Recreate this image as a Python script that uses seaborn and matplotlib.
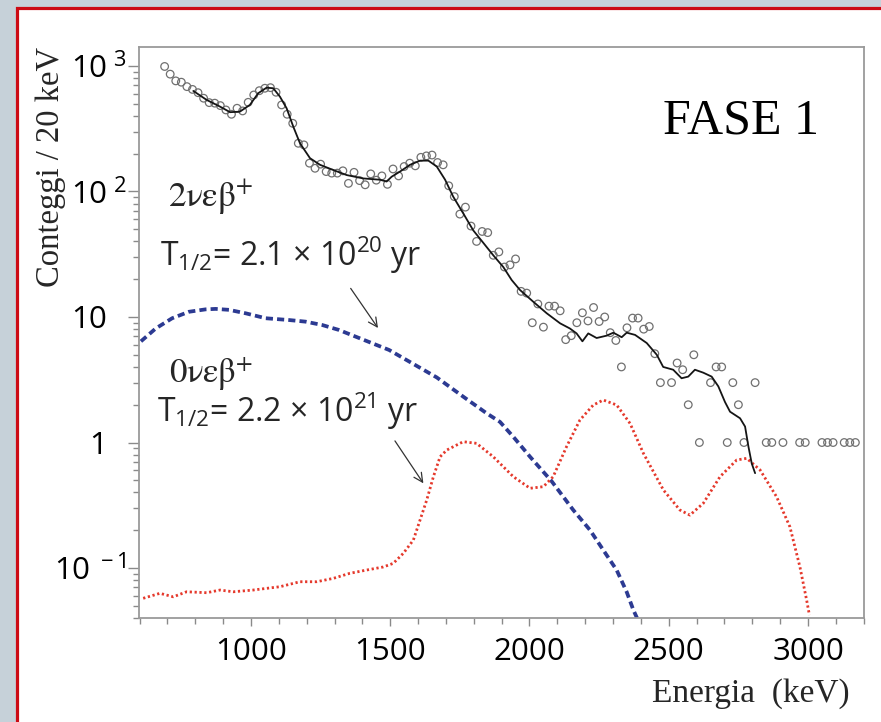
import numpy as np
import pandas as pd
import matplotlib
matplotlib.use("Agg")
import matplotlib.pyplot as plt
import seaborn as sns
from matplotlib.patches import Rectangle
from matplotlib.ticker import LogLocator, NullFormatter, MultipleLocator

# ---------------- data ----------------
energy_pts = [690, 710, 730, 750, 770, 790, 810, 830, 850, 870,
              890, 910, 930, 950, 970, 990, 1010, 1030, 1050, 1070,
              1090, 1110, 1130, 1150, 1170, 1190, 1210, 1230, 1250, 1270,
              1290, 1310, 1330, 1350, 1370, 1390, 1410, 1430, 1450, 1470,
              1490, 1510, 1530, 1550, 1570, 1590, 1610, 1630, 1650, 1670,
              1690, 1710, 1730, 1750, 1770, 1790, 1810, 1830, 1850, 1870,
              1890, 1910, 1930, 1950, 1970, 1990, 2010, 2030, 2050, 2070,
              2090, 2110, 2130, 2150, 2170, 2190, 2210, 2230, 2250, 2270,
              2290, 2310, 2330, 2350, 2370, 2390, 2410, 2430, 2450, 2470,
              2510, 2530, 2550, 2570, 2590, 2610,
              2650, 2670, 2690, 2710, 2730, 2750, 2770, 2810,
              2850, 2870, 2910, 2970, 2990, 3050, 3070, 3090, 3130, 3150, 3170]
counts_pts = [990, 860, 760, 742, 684, 650, 612, 553, 510, 505,
              483, 446, 412, 460, 438, 513, 587, 635, 664, 671,
              617, 489, 412, 349, 242, 235, 168, 153, 165, 144,
              140, 140, 146, 116, 142, 122, 113, 138, 123, 133,
              114, 151, 133, 158, 168, 160, 187, 192, 195, 170,
              163, 111, 91, 66, 75, 53, 40, 48, 47, 31,
              33, 25, 26, 29, 16, 15.5, 9.0, 12.7, 8.3, 12.2,
              12.2, 11.2, 6.6, 7.1, 9.0, 10.8, 9.3, 11.9, 9.2, 10.0,
              7.5, 6.5, 4.0, 8.2, 9.8, 9.8, 8.0, 8.4, 5.1, 3.0,
              3.0, 4.3, 3.8, 2.0, 5.0, 1.0,
              3.0, 4.0, 4.0, 1.0, 3.0, 2.0, 1.0, 3.0,
              1, 1, 1, 1, 1, 1, 1, 1, 1, 1, 1]

fit_energy = [793, 841, 889, 925, 960, 996, 1026, 1056, 1080, 1104,
              1128, 1152, 1176, 1212, 1248, 1296, 1344, 1403, 1463, 1487,
              1505, 1535, 1571, 1607, 1637, 1667, 1697, 1726, 1762, 1798,
              1834, 1870, 1906, 1936, 1966, 2014, 2062, 2110, 2145, 2169,
              2190, 2211, 2241, 2277, 2301, 2331, 2349, 2379, 2421, 2457,
              2480, 2516, 2546, 2570, 2594, 2624, 2654, 2678, 2702, 2720,
              2756, 2774, 2786, 2798, 2810]
fit_counts = [632, 536, 474, 428, 432, 489, 606, 671, 664, 569,
              460, 328, 242, 184, 163, 148, 135, 127, 124, 120,
              131, 144, 163, 176, 176, 158, 124, 91, 67, 49,
              39, 31, 25, 19.7, 16.4, 13.2, 10.7, 8.9, 8.1, 7.4,
              6.4, 7.4, 6.8, 7.1, 7.5, 6.9, 7.5, 7.2, 6.2, 5.0,
              4.0, 3.8, 3.25, 3.35, 3.8, 3.6, 3.35, 2.8, 2.1, 1.76,
              1.56, 1.34, 0.93, 0.68, 0.57]

two_nu_energy = [605, 658, 717, 777, 837, 873, 921, 981, 1053, 1136,
                 1196, 1256, 1316, 1376, 1436, 1496, 1667, 1762, 1846, 1894,
                 1942, 2002, 2080, 2157, 2217, 2265, 2313, 2349, 2373, 2386]
two_nu_counts = [6.4, 8.1, 9.77, 11.0, 11.5, 11.6, 11.4, 10.7, 9.77, 9.46,
                 9.18, 8.63, 7.88, 6.97, 6.17, 5.46, 3.3, 2.32, 1.71, 1.46,
                 1.11, 0.77, 0.49, 0.29, 0.201, 0.139, 0.0963, 0.0645, 0.0463, 0.04]

zero_nu_energy = [613, 673, 721, 769, 841, 889, 936, 1008, 1056, 1104,
                  1176, 1236, 1296, 1355, 1415, 1475, 1511, 1547, 1583, 1607,
                  1631, 1655, 1679, 1703, 1762, 1810, 1870, 1942, 2002, 2050,
                  2085, 2133, 2181, 2229, 2265, 2313, 2361, 2409, 2481, 2540,
                  2576, 2624, 2684, 2744, 2780, 2828, 2887, 2935, 2971, 2995, 3005]
zero_nu_counts = [0.0574, 0.0629, 0.059, 0.0647, 0.0636, 0.0668, 0.0647, 0.0668, 0.0689, 0.071,
                  0.0778, 0.0778, 0.0828, 0.0908, 0.0964, 0.102, 0.109, 0.131, 0.167, 0.241,
                  0.348, 0.534, 0.77, 0.871, 1.015, 0.985, 0.77, 0.534, 0.432, 0.445,
                  0.534, 0.926, 1.51, 1.99, 2.18, 1.99, 1.42, 0.82, 0.418, 0.29,
                  0.264, 0.328, 0.534, 0.726, 0.748, 0.604, 0.37, 0.213, 0.102, 0.0556, 0.0422]

xtick_values = [1000, 1500, 2000, 2500, 3000]
xtick_labels = ["1000", "1500", "2000", "2500", "3000"]
ytick_values = [0.1, 1, 10, 100, 1000]
ytick_labels = [r"$10^{\ -1}$", "1", "10", r"$10^{\ 2}$", r"$10^{\ 3}$"]

# ---------------- style ----------------
sns.set_theme(style="ticks")
plt.rcParams["font.family"] = ["Open Sans", "DejaVu Sans"]
plt.rcParams["mathtext.fontset"] = "custom"
plt.rcParams["mathtext.rm"] = "Open Sans"
plt.rcParams["mathtext.it"] = "Open Sans:italic"
plt.rcParams["mathtext.bf"] = "Open Sans:bold"

fig = plt.figure(figsize=(8.81, 7.22), dpi=100)
fig.patch.set_facecolor("#c6d1d9")
frame = Rectangle((16.5 / 881, -0.1), 1.2, 1.1 - 7.5 / 722,
                  transform=fig.transFigure, facecolor="white",
                  edgecolor="#cc0a14", linewidth=2.3, zorder=-10)
fig.patches.append(frame)

ax = fig.add_axes([139 / 881, 1 - 618 / 722, 725 / 881, 571 / 722])
ax.set_facecolor("white")
ax.set_yscale("log")

df_pts = pd.DataFrame({"energy": energy_pts, "counts": counts_pts})
df_fit = pd.DataFrame({"energy": fit_energy, "counts": fit_counts})
df_two = pd.DataFrame({"energy": two_nu_energy, "counts": two_nu_counts})
df_zero = pd.DataFrame({"energy": zero_nu_energy, "counts": zero_nu_counts})

sns.lineplot(data=df_two, x="energy", y="counts", ax=ax, color="#2c3a92",
             linewidth=2.7, linestyle=(0, (1.9, 1.1)), errorbar=None, zorder=2)
sns.lineplot(data=df_zero, x="energy", y="counts", ax=ax, color="#e5392c",
             linewidth=2.0, linestyle=(0, (0.8, 0.95)), errorbar=None, zorder=2)
sns.scatterplot(data=df_pts, x="energy", y="counts", ax=ax, marker="o", s=30,
                facecolor="none", edgecolor="#707070", linewidth=0.9, zorder=3)
sns.lineplot(data=df_fit, x="energy", y="counts", ax=ax, color="#151515",
             linewidth=1.3, errorbar=None, zorder=4)

ax.set_xlim(598, 3201)
ax.set_ylim(0.04, 1415)

ax.set_xticks(xtick_values)
ax.set_xticklabels(xtick_labels)
ax.xaxis.set_minor_locator(MultipleLocator(100))
ax.set_yticks(ytick_values)
ax.set_yticklabels(ytick_labels)
ax.yaxis.set_minor_locator(LogLocator(base=10, subs=np.arange(2, 10) * 1.0, numticks=30))
ax.yaxis.set_minor_formatter(NullFormatter())

tick_gray = "#8a8a8a"
ax.tick_params(axis="both", which="both", direction="out", color=tick_gray,
               width=1.0, labelcolor="black", labelsize=22.5)
ax.tick_params(axis="y", which="major", length=8, pad=1)
ax.tick_params(axis="y", which="minor", length=4.3)
ax.tick_params(axis="x", which="major", length=5.5, pad=8)
ax.tick_params(axis="x", which="minor", length=4.5)
for sp in ax.spines.values():
    sp.set_color("#9a9a9a")
    sp.set_linewidth(1.3)

# labels without exponent sit further left, as in the reference
for tick, lab in zip(ax.yaxis.get_major_ticks(), ytick_labels):
    if "^" not in lab:
        tick.label1.set_x(-0.027)

ax.set_xlabel("Energia  (keV)", fontfamily="Liberation Serif", fontsize=24)
ax.xaxis.set_label_coords(0.844, -0.105)
ax.set_ylabel("Conteggi / 20 keV", fontfamily="Liberation Serif", fontsize=23.5)
ax.yaxis.set_label_coords(-0.100, 0.79)

ax.text(0.830, 0.849, "FASE 1", transform=ax.transAxes, ha="center",
        va="baseline", fontfamily="Liberation Serif", fontsize=36, color="black")
ax.text(0.040, 0.720, r"$\mathrm{2νεβ}^{+}$", transform=ax.transAxes,
        ha="left", va="baseline", fontsize=25.5, math_fontfamily="stix")
ax.text(0.029, 0.616, r"T$_{1/2}$= 2.1 × 10$^{20}$ yr", transform=ax.transAxes,
        ha="left", va="baseline", fontsize=23)
ax.text(0.041, 0.411, r"$\mathrm{0νεβ}^{+}$", transform=ax.transAxes,
        ha="left", va="baseline", fontsize=25, math_fontfamily="stix")
ax.text(0.025, 0.343, r"T$_{1/2}$= 2.2 × 10$^{21}$ yr", transform=ax.transAxes,
        ha="left", va="baseline", fontsize=23)

arrow_kw = dict(arrowstyle="->", color="#333333", lw=0.9, mutation_scale=16,
                shrinkA=0, shrinkB=0)
ax.annotate("", xy=(1456, 8.17), xytext=(1358, 16.9), arrowprops=arrow_kw)
ax.annotate("", xy=(1619, 0.473), xytext=(1517, 1.03), arrowprops=arrow_kw)

fig.savefig("out.png", dpi=100, facecolor=fig.get_facecolor())
